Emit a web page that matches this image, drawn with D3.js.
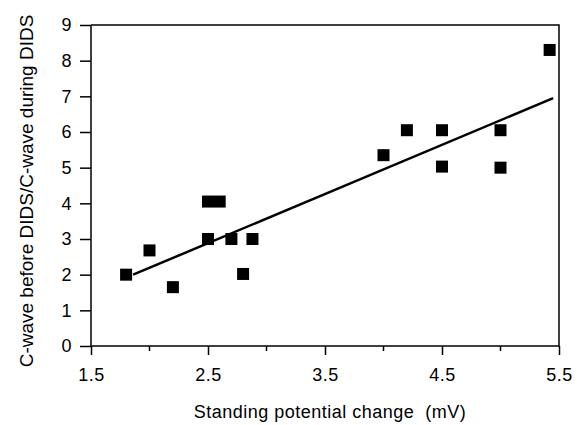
<!DOCTYPE html>
<html>
<head>
<meta charset="utf-8">
<script src="https://cdn.jsdelivr.net/npm/d3@7"></script>
<style>
    body { margin: 0; background: #fff; }
    text { font-family: "Liberation Sans", Arial, sans-serif; fill: #000; }
</style>
</head>
<body>
<div id="chart"></div>
<script>
// standing potential change (mV) and c-wave ratio
const potential = [1.8, 2.0, 2.2, 2.5, 2.5, 2.6, 2.7, 2.8, 2.88, 4.0, 4.2, 4.5, 4.5, 5.0, 5.0, 5.42];
const ratio     = [2.0, 2.68, 1.65, 4.05, 3.0, 4.05, 3.0, 2.02, 3.0, 5.35, 6.05, 6.05, 5.03, 6.05, 5.0, 8.3];
// regression line end points
const fitX = [1.86, 5.45];
const fitY = [2.0, 6.95];
const xTicks = [1.5, 2.5, 3.5, 4.5, 5.5];
const xMinor = [2, 3, 4, 5];
const yTicks = [0, 1, 2, 3, 4, 5, 6, 7, 8, 9];

const W = 583, H = 425;
const margin = {top: 25, right: 24, bottom: 79, left: 91};

const svg = d3.select('#chart').append('svg')
    .attr('width', W)
    .attr('height', H);

const xScale = d3.scaleLinear().domain([1.5, 5.5]).range([margin.left, W - margin.right]);
const yScale = d3.scaleLinear().domain([0, 9]).range([H - margin.bottom, margin.top]);

// frame (top and right)
svg.append('path')
    .attr('d', `M${xScale(1.5)},${yScale(9)}H${xScale(5.5)}V${yScale(0)}`)
    .attr('fill', 'none')
    .attr('stroke', '#000')
    .attr('stroke-width', 1.5);

// x axis
const xAxis = svg.append('g')
    .attr('transform', `translate(0,${yScale(0)})`)
    .call(d3.axisBottom(xScale).tickValues(xTicks).tickSize(9).tickPadding(13).tickFormat(d3.format('.1f')));
xAxis.append('g').selectAll('line')
    .data(xMinor)
    .join('line')
    .attr('x1', d => xScale(d)).attr('x2', d => xScale(d))
    .attr('y1', 0).attr('y2', 5)
    .attr('stroke', '#000').attr('stroke-width', 1.5);

// y axis
const yAxis = svg.append('g')
    .attr('transform', `translate(${margin.left},0)`)
    .call(d3.axisLeft(yScale).tickValues(yTicks).tickSize(11).tickPadding(8));

[xAxis, yAxis].forEach(ax => {
    ax.selectAll('.tick line').attr('stroke-width', 1.5);
    ax.selectAll('text')
        .style('font-size', '18px')
        .style('letter-spacing', '0.5px');
});
xAxis.select('.domain').attr('stroke-width', 1.5).attr('d', `M${xScale(1.5)},0H${xScale(5.5)}`);
yAxis.select('.domain').attr('stroke-width', 1.5).attr('d', `M0,${yScale(0)}V${yScale(9)}`);

// regression line
svg.append('line')
    .attr('x1', xScale(fitX[0])).attr('y1', yScale(fitY[0]))
    .attr('x2', xScale(fitX[1])).attr('y2', yScale(fitY[1]))
    .attr('stroke', '#000')
    .attr('stroke-width', 2.5);

// points
const sz = 12;
svg.append('g').selectAll('rect')
    .data(potential.map((p, i) => ({x: p, y: ratio[i]})))
    .join('rect')
    .attr('x', d => xScale(d.x) - sz / 2)
    .attr('y', d => yScale(d.y) - sz / 2)
    .attr('width', sz)
    .attr('height', sz)
    .attr('fill', '#000');

// axis titles
svg.append('text')
    .attr('x', 330)
    .attr('y', 418)
    .attr('text-anchor', 'middle')
    .style('font-size', '18px')
    .style('letter-spacing', '0.5px')
    .style('white-space', 'pre')
    .text('Standing potential change  (mV)');

svg.append('text')
    .attr('transform', 'translate(33,191) rotate(-90)')
    .attr('text-anchor', 'middle')
    .style('font-size', '19px')
    .text('C-wave before DIDS/C-wave during DIDS');
</script>
</body>
</html>
